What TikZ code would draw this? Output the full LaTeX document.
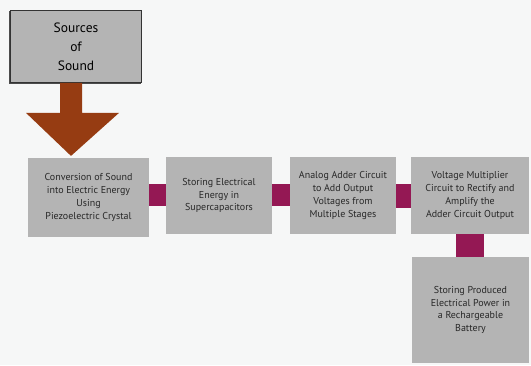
\documentclass[tikz,border=0pt]{standalone}
\usepackage{fontspec}
\setmainfont{PT Sans}
\usetikzlibrary{calc}
\definecolor{fondclair}{RGB}{246,247,247}
\definecolor{boite}{RGB}{180,180,180}
\definecolor{lien}{RGB}{148,24,84}
\definecolor{brun}{RGB}{150,60,18}
\definecolor{texte}{RGB}{40,40,40}
\tikzset{
  etape/.style={fill=boite, text=texte, align=center, inner sep=2pt,
    font=\fontsize{10}{12.8}\selectfont},
  lien/.style={fill=lien}
}
\begin{document}
\begin{tikzpicture}[x=1pt,y=-1pt]
        % Fond et cadre
        \fill[fondclair] (0,0) rectangle (531,365);
        \useasboundingbox (0,0) rectangle (531,365);

        % Sources de son
        \fill[gray!60!black] (9,11) rectangle (141,84);
        \node[etape, draw=gray!40!black, line width=0.8pt, minimum width=131pt, minimum height=72pt,
              font=\fontsize{13.5}{19}\selectfont, text=black] (src) at (76,46.5) {Sources\\of\\Sound};

        % Fleche vers la premiere etape
        \fill[brun] ($(src.south)+(-16,0)$) -- ++(22,0) -- ++(0,30) -- ++(37,0)
            -- ($(src.south)+(-5,73)$) -- ($(src.south)+(-50,30)$) -- ++(34,0) -- cycle;

        % Etapes de la chaine
        \node[etape, minimum width=121pt, minimum height=79pt] (conv) at (88.5,197.5)
            {Conversion of Sound\\into Electric Energy\\Using\\Piezoelectric Crystal};
        \node[etape, minimum width=106pt, minimum height=77pt] (super) at (219,195.5)
            {Storing Electrical\\Energy in\\Supercapacitors};
        \node[etape, minimum width=106pt, minimum height=77pt] (adder) at (343,195.5)
            {Analog Adder Circuit\\to Add Output\\Voltages from\\Multiple Stages};
        \node[etape, minimum width=118pt, minimum height=77pt] (mult) at (470,195.5)
            {Voltage Multiplier\\Circuit to Rectify and\\Amplify the\\Adder Circuit Output};
        \node[etape, minimum width=117pt, minimum height=106pt] (batt) at (470.5,310)
            {Storing Produced\\Electrical Power in\\a Rechargeable\\Battery};

        % Liaisons
        \fill[lien] ([yshift=14pt]conv.east) rectangle ([yshift=-10pt]super.west);
        \fill[lien] ([yshift=12pt]super.east) rectangle ([yshift=-10pt]adder.west);
        \fill[lien] ([yshift=12pt]adder.east) rectangle ([yshift=-12pt]mult.west);
        \fill[lien] ([xshift=-14pt]mult.south) rectangle ([xshift=13pt]batt.north);
    \end{tikzpicture}
\end{document}
